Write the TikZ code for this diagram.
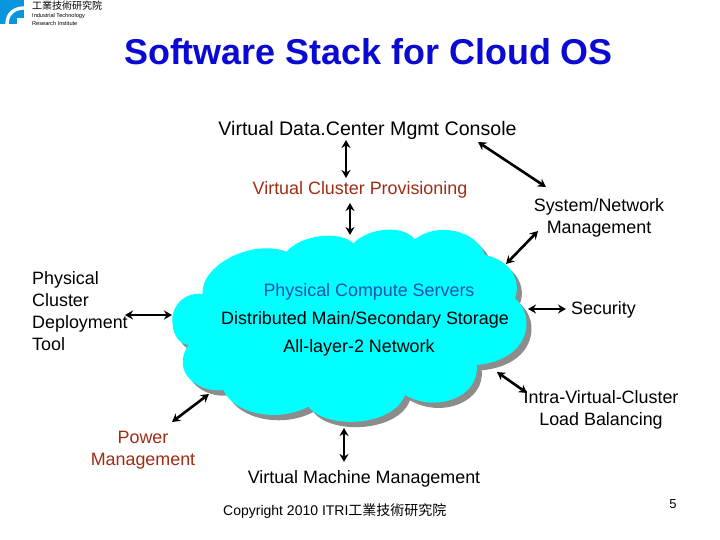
\documentclass[tikz,border=0pt]{standalone}
\usepackage{fontspec}
\setmainfont{Liberation Sans}
\newfontfamily\cjkfont{Noto Sans CJK TC}
\usetikzlibrary{arrows.meta}
\definecolor{titleblue}{HTML}{0A0AD2}
\definecolor{brickred}{HTML}{A02C14}
\definecolor{cloudcyan}{HTML}{00FFFF}
\definecolor{shadowgray}{HTML}{8C8C8C}
\definecolor{logoblue}{HTML}{0A96DC}
\definecolor{serverblue}{HTML}{1E50B4}
\tikzset{
  x=1pt,y=-1pt,
  lbl/.style={font=\fontsize{17.9}{21.8}\selectfont,inner sep=0pt,align=center,text=black},
  lblleft/.style={lbl,align=left,anchor=north west},
  link/.style={draw=black,line width=2.6pt,{Stealth[length=8pt,width=9pt]}-{Stealth[length=8pt,width=9pt]}},
  cloudshape/.pic={
    \path[pic actions] (37,330) .. controls (37,280) and (80,245) .. (128,252)
      .. controls (120,170) and (270,85) .. (380,125)
      .. controls (420,75) and (540,60) .. (580,100)
      .. controls (630,50) and (730,45) .. (765,88)
      .. controls (830,35) and (950,60) .. (975,135)
      .. controls (1050,150) and (1085,210) .. (1065,265)
      .. controls (1130,320) and (1110,450) .. (950,465)
      .. controls (960,560) and (830,610) .. (735,555)
      .. controls (700,650) and (500,660) .. (445,590)
      .. controls (350,640) and (220,610) .. (190,540)
      .. controls (120,550) and (30,490) .. (85,405)
      .. controls (50,400) and (37,365) .. (37,330) -- cycle;
  }
}
\begin{document}
\begin{tikzpicture}
\useasboundingbox (0,0) rectangle (720,540);
\fill[white] (0,0) rectangle (720,540);
% logo
\fill[logoblue] (0,0) rectangle (24,24);
\draw[white,line width=3.4pt] (7,24) .. controls (7,14) and (14,8) .. (24,8);
\fill[white] (17,18) rectangle (24,24);
\node[anchor=west,inner sep=0pt,text=black] (logocn) at (32,6) {\cjkfont\fontsize{10}{12}\selectfont 工業技術研究院};
\node[anchor=north west,inner sep=0pt,align=left,text=black,font=\fontsize{5.6}{7.4}\selectfont] (logoen) at (32,13.5) {Industrial Technology\\Research Institute};
% title
\node[inner sep=0pt,text=titleblue,font=\fontsize{35.9}{42}\selectfont\bfseries] (title) at (368.5,52) {Software Stack for Cloud OS};
% cloud
\begin{scope}[shift={(160pt,-210pt)},x=0.33333pt,y=-0.33333pt]
\pic[fill=shadowgray] at (15,16) {cloudshape};
\pic[fill=cloudcyan] {cloudshape};
\end{scope}
% labels
\node[lbl,font=\fontsize{19.6}{23}\selectfont] (console) at (367.5,130.5) {Virtual Data.Center Mgmt Console};
\node[lbl,text=brickred] (vcp) at (360,190) {Virtual Cluster Provisioning};
\node[lbl] (sysnet) at (599,217.5) {System/Network\\Management};
\node[lblleft] (pcd) at (32,271.5) {Physical\\Cluster\\Deployment\\Tool};
\node[lbl,text=serverblue] (pcs) at (369,292) {Physical Compute Servers};
\node[lbl] (dist) at (365,320) {Distributed Main/Secondary Storage};
\node[lbl] (net) at (359,348) {All-layer-2 Network};
\node[lbl] (sec) at (603.5,309.5) {Security};
\node[lbl] (intra) at (601,410) {Intra-Virtual-Cluster\\Load Balancing};
\node[lbl,text=brickred] (power) at (143,450) {Power\\Management};
\node[lbl,text=black] (vmm) at (364,479) {Virtual Machine Management};
\node[inner sep=0pt,anchor=west,font=\fontsize{14}{16}\selectfont] (copy) at (223,511) {Copyright 2010 ITRI\cjkfont 工業技術研究院};
\node[inner sep=0pt,font=\fontsize{13}{16}\selectfont] (pagenum) at (673,504) {5};
% connector ends
\coordinate (a1) at (346,140); \coordinate (a2) at (346,178);
\coordinate (b1) at (350,203); \coordinate (b2) at (350,235);
\coordinate (c1) at (478,142); \coordinate (c2) at (546,187);
\coordinate (d1) at (538,231); \coordinate (d2) at (506,264);
\coordinate (e1) at (528,309); \coordinate (e2) at (566,309);
\coordinate (f1) at (125,315); \coordinate (f2) at (172,315);
\coordinate (g1) at (497,372); \coordinate (g2) at (527,393);
\coordinate (h1) at (209,394); \coordinate (h2) at (172,422);
\coordinate (i1) at (344,428); \coordinate (i2) at (344,462);
\foreach \s/\t in {a1/a2,b1/b2,c1/c2,d1/d2,e1/e2,f1/f2,g1/g2,h1/h2,i1/i2}
  \draw[link] (\s) -- (\t);
\end{tikzpicture}
\end{document}
